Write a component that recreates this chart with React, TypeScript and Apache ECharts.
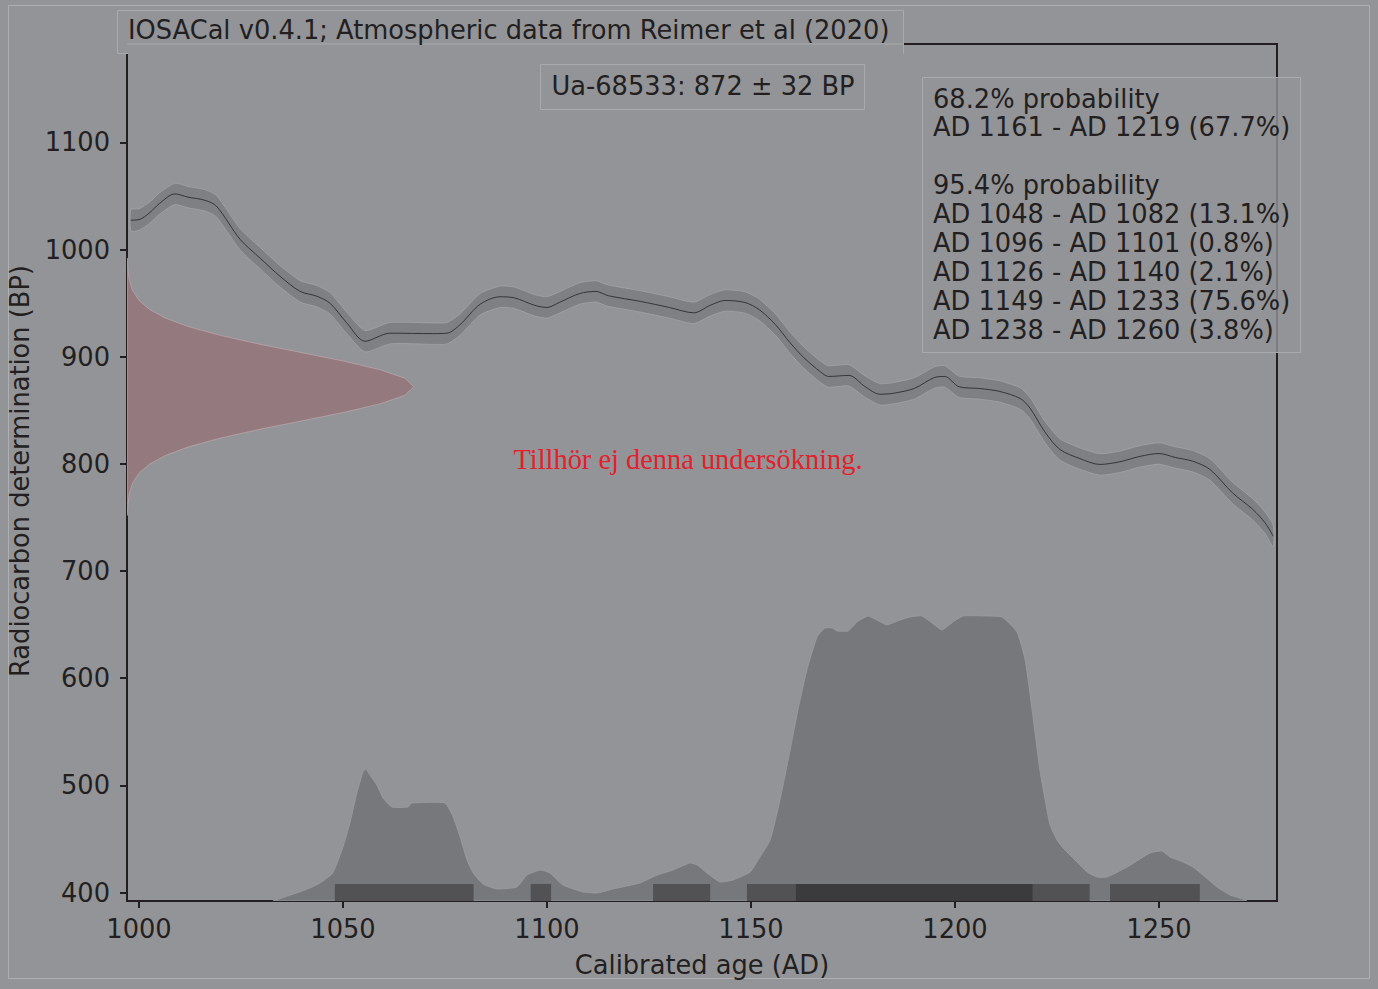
import React, { useEffect, useRef } from "react";
import * as echarts from "echarts";

// ---------- data ----------
const X_TICKS = [1000, 1050, 1100, 1150, 1200, 1250];
const Y_TICKS = [400, 500, 600, 700, 800, 900, 1000, 1100];
const X_MIN = 997.06;
const X_MAX = 1278.92;
const Y_MIN = 392.07;
const Y_MAX = 1191.9;

// calibration curve (IntCal20) mean, AD vs BP
const CURVE_YEARS = [
  998, 1000, 1002.7, 1005, 1008.8, 1012, 1016.2, 1019, 1024.8, 1029.7, 1034.6, 1039.5, 1043.6, 1046.8,
  1050.9, 1055.4, 1061.5, 1072, 1075.5, 1078.7, 1083.6, 1088.5, 1092, 1097, 1100, 1103, 1108, 1112,
  1115, 1123, 1130, 1136, 1140, 1143.6, 1148.5, 1152, 1156, 1159.6, 1163, 1167, 1169, 1174, 1178,
  1181.6, 1185, 1190, 1195, 1197.5, 1201, 1206, 1211, 1216, 1218.4, 1222, 1225.7, 1230.6, 1235.5,
  1240.4, 1245.3, 1250, 1254, 1258.3, 1262.5, 1268, 1273, 1276, 1278,
];
const CURVE_BP = [
  1027.5, 1028, 1034.7, 1043, 1052, 1049, 1046, 1040.5, 1009.5, 992, 975, 961, 956.5, 950,
  931.7, 914.5, 922, 921.6, 922, 930, 949, 956, 955, 948, 946, 950.7, 959, 961,
  957, 951.6, 946, 941, 948, 952.5, 950.7, 944, 930, 913, 899, 886, 881.6, 882.6, 872,
  865, 866, 870.4, 880.7, 881.6, 872, 870.4, 867.6, 861, 852, 830, 813.5, 805, 799.5,
  802, 807, 809.7, 806, 802.5, 794.8, 773, 757.5, 745, 732.5,
];
const CURVE_HALF_WIDTH = 10; // 1-sigma band half width in BP

// radiocarbon determination 872 ± 32 BP (relative density)
const RC_BP = [
  752, 762, 772, 782, 792, 800, 808, 816, 824, 832, 840, 848, 856, 864, 872,
  880, 888, 896, 904, 912, 920, 928, 936, 944, 952, 962, 972, 982, 992,
];
const RC_DENSITY = [
  0.001, 0.003, 0.008, 0.019, 0.044, 0.08, 0.135, 0.216, 0.325, 0.458, 0.607, 0.755, 0.882, 0.969, 1,
  0.969, 0.882, 0.755, 0.607, 0.458, 0.325, 0.216, 0.135, 0.08, 0.044, 0.019, 0.008, 0.003, 0.001,
];
const RC_PEAK_WIDTH_YEARS = 70.3;

// calibrated probability distribution (top edge, in axis units)
const PROB_YEARS = [
  1032.8, 1039.5, 1041.9, 1044.4, 1047.5, 1050, 1051.7, 1053.4, 1054.9, 1055.6, 1056.6, 1058.3, 1059.8,
  1062, 1065.9, 1066.9, 1075, 1077, 1078.7, 1080.4, 1081.9, 1084.3, 1087.7, 1092.6, 1095.1, 1098.3,
  1100.7, 1103.9, 1108.8, 1112.3, 1116.2, 1122.8, 1127, 1130.9, 1135, 1136.8, 1139.2, 1142.4, 1145.6,
  1149.8, 1152.2, 1154.7, 1157.1, 1159.6, 1161.5, 1163.7, 1166.2, 1168.1, 1169.9, 1171.1, 1173.8, 1176,
  1178.7, 1180.9, 1183.3, 1186.5, 1189, 1191.9, 1194.4, 1196.8, 1199.5, 1202, 1206.9, 1211.5, 1215.2,
  1217.2, 1218.9, 1220.8, 1222.1, 1223.3, 1225, 1226.5, 1228.9, 1232.4, 1234.8, 1237.3, 1242.2, 1247.8,
  1250.7, 1252.7, 1255.9, 1258.3, 1260.8, 1264.2, 1267.4, 1270.6, 1271.6,
];
const PROB_TOP = [
  392, 400.7, 404.2, 408.9, 418.2, 442.5, 464.9, 492.9, 512.5, 515.3, 509.7, 500.3, 488.2,
  479.8, 479.8, 483.5, 483.5, 470.5, 451.8, 430.3, 418.2, 407.9, 403.3, 405.1, 416.3, 421,
  418.2, 407, 400.5, 399.5, 403.3, 408.9, 416.3, 421, 427.5, 425.7, 418.2, 409.8, 411.7,
  419.1, 433.1, 449, 486.3, 533, 570.3, 607.7, 638.5, 646.9, 646.9, 644.1, 644.1, 652.5,
  658.1, 654.3, 649.7, 654.3, 657.1, 658.1, 651.5, 645, 652.5, 658.1, 658.1, 657.1, 643.1,
  617, 570.3, 514.3, 486.3, 463, 449, 441.5, 432.2, 419.1, 414.5, 414.5, 423.8, 436.9,
  438.7, 433.1, 428.5, 423.8, 416.3, 405.1, 397.7, 393.9, 392,
];

// highest posterior density ranges
const HPD95 = [
  [1048, 1082],
  [1096, 1101],
  [1126, 1140],
  [1149, 1233],
  [1238, 1260],
];
const HPD68 = [[1161, 1219]];
const HPD_BAR_TOP = 408;

const TITLE = "IOSACal v0.4.1; Atmospheric data from Reimer et al (2020)";
const DATE_LABEL = "Ua-68533: 872 ± 32 BP";
const PROB_LINES = [
  "68.2% probability",
  "AD 1161 - AD 1219 (67.7%)",
  "",
  "95.4% probability",
  "AD 1048 - AD 1082 (13.1%)",
  "AD 1096 - AD 1101 (0.8%)",
  "AD 1126 - AD 1140 (2.1%)",
  "AD 1149 - AD 1233 (75.6%)",
  "AD 1238 - AD 1260 (3.8%)",
];
const X_NAME = "Calibrated age (AD)";
const Y_NAME = "Radiocarbon determination (BP)";
const WATERMARK = "Tillhör ej denna undersökning.";

// ---------- styling ----------
const BG = "#939498";
const INK = "#231f20";
const FONT = "DejaVu Sans";
const FS = 25.7;

function polygonSeries(points: number[][], fill: string, stroke: string, z: number, smooth = 0) {
  return {
    type: "custom",
    silent: true,
    clip: true,
    z,
    data: [[points[0][0], points[0][1]]],
    renderItem: (_params: any, api: any) => ({
      type: "polygon",
      shape: { points: points.map((p) => api.coord(p)), smooth },
      style: { fill, stroke, lineWidth: 0.8 },
    }),
  };
}

function barsSeries(ranges: number[][], fill: string, z: number) {
  return {
    type: "custom",
    silent: true,
    clip: true,
    z,
    data: ranges.map((r) => [r[0], r[1]]),
    encode: { x: [0, 1] },
    renderItem: (_params: any, api: any) => {
      const p0 = api.coord([api.value(0), HPD_BAR_TOP]);
      const p1 = api.coord([api.value(1), Y_MIN]);
      return {
        type: "rect",
        shape: { x: p0[0], y: p0[1], width: p1[0] - p0[0], height: p1[1] - p0[1] },
        style: { fill },
      };
    },
  };
}

export default function App() {
  const ref = useRef<HTMLDivElement>(null);

  useEffect(() => {
    if (!ref.current) return;
    const chart = echarts.init(ref.current, undefined, { renderer: "svg" });

    const upper = CURVE_YEARS.map((y, i) => [y, CURVE_BP[i] + CURVE_HALF_WIDTH]);
    const lower = CURVE_YEARS.map((y, i) => [y, CURVE_BP[i] - CURVE_HALF_WIDTH]).reverse();
    const band = upper.concat(lower);

    const pink = [[X_MIN, RC_BP[0]]]
      .concat(RC_BP.map((b, i) => [X_MIN + RC_DENSITY[i] * RC_PEAK_WIDTH_YEARS, b]))
      .concat([[X_MIN, RC_BP[RC_BP.length - 1]]]);

    const prob = [[PROB_YEARS[0], Y_MIN]]
      .concat(PROB_YEARS.map((y, i) => [y, PROB_TOP[i]]))
      .concat([[PROB_YEARS[PROB_YEARS.length - 1], Y_MIN]]);

    const textStyle = { fontFamily: FONT, fontSize: FS, fill: INK };

    const graphics: any[] = [
      // outer frame
      {
        type: "rect",
        z: 1,
        silent: true,
        shape: { x: 8.5, y: 5.5, width: 1361, height: 973 },
        style: { fill: "none", stroke: "#aeafb2", lineWidth: 1 },
      },
      // right and top spines
      {
        type: "line",
        z: 20,
        shape: { x1: 1277, y1: 43, x2: 1277, y2: 902 },
        style: { stroke: INK, lineWidth: 2 },
      },
      {
        type: "line",
        z: 20,
        shape: { x1: 903, y1: 44, x2: 1278, y2: 44 },
        style: { stroke: INK, lineWidth: 2 },
      },
      // title box
      {
        type: "rect",
        z: 30,
        shape: { x: 117.5, y: 10.5, width: 786, height: 43 },
        style: { fill: BG, stroke: "#a9aaad", lineWidth: 1 },
      },
      {
        type: "rect",
        z: 31,
        shape: { x: 128, y: 44.5, width: 775, height: 10 },
        style: { fill: BG },
      },
      {
        type: "line",
        z: 31,
        shape: { x1: 127, y1: 44, x2: 903, y2: 44 },
        style: { stroke: "#a9aaad", lineWidth: 1 },
      },
      {
        type: "text",
        z: 32,
        x: 128,
        y: 29.5,
        style: { ...textStyle, text: TITLE, align: "left", verticalAlign: "middle" },
      },
      // date box
      {
        type: "rect",
        z: 30,
        shape: { x: 540.5, y: 64.5, width: 324, height: 45 },
        style: { fill: "rgba(147,148,152,0.8)", stroke: "#a9aaad", lineWidth: 1 },
      },
      {
        type: "text",
        z: 32,
        x: 703,
        y: 86,
        style: { ...textStyle, text: DATE_LABEL, align: "center", verticalAlign: "middle" },
      },
      // probability box
      {
        type: "rect",
        z: 30,
        shape: { x: 922.5, y: 77.5, width: 378, height: 275 },
        style: { fill: "rgba(147,148,152,0.8)", stroke: "#a9aaad", lineWidth: 1 },
      },
      ...PROB_LINES.map((t, idx) => ({ t, idx }))
        .filter((o) => o.t !== "")
        .map((o) => ({
          type: "text",
          z: 32,
          x: 933,
          y: 98.5 + o.idx * 28.9,
          style: { ...textStyle, text: o.t, align: "left", verticalAlign: "middle" },
        })),
      // axis names
      {
        type: "text",
        z: 32,
        x: 702,
        y: 965,
        style: { ...textStyle, text: X_NAME, align: "center", verticalAlign: "middle" },
      },
      {
        type: "text",
        z: 32,
        x: 20,
        y: 471,
        rotation: Math.PI / 2,
        style: { ...textStyle, text: Y_NAME, align: "center", verticalAlign: "middle" },
      },
      // watermark
      {
        type: "text",
        z: 32,
        x: 688,
        y: 459,
        style: {
          text: WATERMARK,
          fontFamily: "Liberation Serif",
          fontSize: 28.4,
          fill: "#e3202b",
          align: "center",
          verticalAlign: "middle",
        },
      },
    ];

    const option: any = {
      animation: false,
      backgroundColor: BG,
      grid: { left: 127, right: 101, top: 44, bottom: 88, containLabel: false },
      xAxis: {
        type: "value",
        min: X_MIN,
        max: X_MAX,
        axisLine: { show: true, onZero: false, lineStyle: { color: INK, width: 2 } },
        axisTick: {
          show: true,
          inside: false,
          length: 7,
          lineStyle: { color: INK, width: 2 },
          customValues: X_TICKS,
        },
        axisLabel: {
          color: INK,
          fontFamily: FONT,
          fontSize: FS,
          margin: 15,
          customValues: X_TICKS,
          formatter: (v: number) => String(v),
        },
        splitLine: { show: false },
      },
      yAxis: {
        type: "value",
        min: Y_MIN,
        max: Y_MAX,
        axisLine: { show: true, onZero: false, lineStyle: { color: INK, width: 2 } },
        axisTick: {
          show: true,
          inside: false,
          length: 7,
          lineStyle: { color: INK, width: 2 },
          customValues: Y_TICKS,
        },
        axisLabel: {
          color: INK,
          fontFamily: FONT,
          fontSize: FS,
          margin: 17,
          customValues: Y_TICKS,
          formatter: (v: number) => String(v),
        },
        splitLine: { show: false },
      },
      graphic: graphics,
      series: [
        polygonSeries(band, "#7f8084", "#a2a3a7", 2, 0.2),
        {
          type: "line",
          data: CURVE_YEARS.map((y, i) => [y, CURVE_BP[i]]),
          showSymbol: false,
          symbol: "none",
          smooth: 0.3,
          silent: true,
          z: 3,
          lineStyle: { color: "#2c2c2f", width: 0.9 },
        },
        polygonSeries(pink, "#947a7f", "#b9a4a9", 4),
        polygonSeries(prob, "#77787c", "#9c9da1", 5, 0.15),
        barsSeries(HPD95, "#525255", 6),
        barsSeries(HPD68, "#3b3b3e", 7),
      ],
    };

    chart.setOption(option);
    return () => chart.dispose();
  }, []);

  return (
    <div
      ref={ref}
      style={{ position: "fixed", left: 0, top: 0, width: 1378, height: 989 }}
    />
  );
}
